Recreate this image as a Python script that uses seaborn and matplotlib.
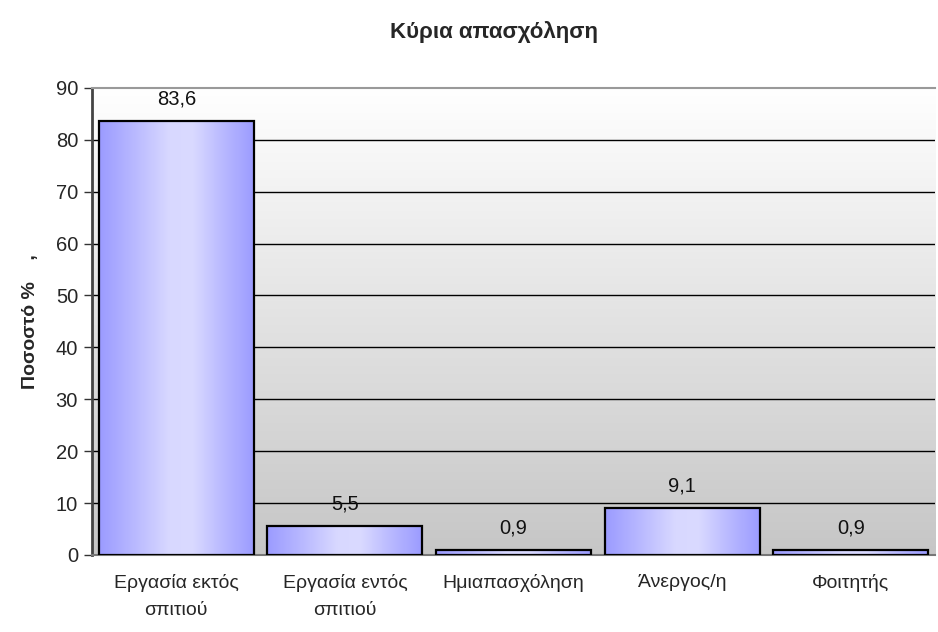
import numpy as np
import pandas as pd
import matplotlib
matplotlib.use("Agg")
import matplotlib.pyplot as plt
import seaborn as sns
from matplotlib.colors import LinearSegmentedColormap

categories = ["Εργασία εκτός\nσπιτιού", "Εργασία εντός\nσπιτιού", "Ημιαπασχόληση", "Άνεργος/η", "Φοιτητής"]
values = [83.6, 5.5, 0.9, 9.1, 0.9]
value_labels = ["83,6", "5,5", "0,9", "9,1", "0,9"]
yticks = [0, 10, 20, 30, 40, 50, 60, 70, 80, 90]

sns.set_theme(style="white")
plt.rcParams['font.family'] = ['Liberation Sans', 'DejaVu Sans']

fig = plt.figure(figsize=(9.38, 6.32), dpi=100)
ax = fig.add_axes([0.098, 0.122, 0.899, 0.739])

df = pd.DataFrame({"cat": categories, "val": values})
sns.barplot(data=df, x="cat", y="val", ax=ax, color="#a0a0ff", width=0.92,
            edgecolor="black", linewidth=1.6, zorder=3)

ax.set_ylim(0, 90)
ax.set_xlim(-0.5, len(categories) - 0.5)

# background gradient
bg = np.linspace(0, 1, 256).reshape(-1, 1)
bg_cmap = LinearSegmentedColormap.from_list("bg", ["#c6c6c6", "#ffffff"])
ax.imshow(bg, cmap=bg_cmap, aspect="auto", extent=[-0.5, len(categories) - 0.5, 0, 90],
          origin="lower", zorder=0)

# bar gradients
grad_cmap = LinearSegmentedColormap.from_list(
    "bar", [(0.0, "#9b9bff"), (0.22, "#b8b8ff"), (0.45, "#d8d8ff"), (0.6, "#dadaff"),
            (0.8, "#b8b8ff"), (1.0, "#9b9bff")])
g = np.linspace(0, 1, 256).reshape(1, -1)
for p in list(ax.patches):
    x0, y0 = p.get_x(), p.get_y()
    w, h = p.get_width(), p.get_height()
    im = ax.imshow(g, cmap=grad_cmap, aspect="auto", extent=[x0, x0 + w, y0, y0 + h],
                   zorder=3.5)
    im.set_clip_path(p)
    p.set_facecolor("none")
    p.set_zorder(4)

ax.set_xlim(-0.5, len(categories) - 0.5)
ax.set_ylim(0, 90)

# value labels
for i, (v, lab) in enumerate(zip(values, value_labels)):
    ax.annotate(lab, (i, v), xytext=(0, 9), textcoords="offset points",
                ha="center", va="bottom", fontsize=14.5, color="#111111", zorder=5)

# gridlines
for t in yticks[1:-1]:
    ax.axhline(t, color="black", linewidth=1.0, zorder=1)

ax.set_yticks(yticks)
ax.set_yticklabels([str(t) for t in yticks], fontsize=14.5)
ax.set_xticks(range(len(categories)))
ax.set_xticklabels(categories, fontsize=14, linespacing=1.75)
ax.set_xticks(np.arange(-0.5, len(categories) + 0.5, 1), minor=True)
ax.tick_params(axis="x", which="major", length=0, pad=14)
ax.tick_params(axis="x", which="minor", length=5, width=1, color="#555555", direction="out")
ax.tick_params(axis="y", which="major", length=6, width=1, color="#333333", direction="out", left=True, pad=4)

ax.spines["left"].set_color("#444444")
ax.spines["left"].set_linewidth(2)
ax.spines["bottom"].set_color("#777777")
ax.spines["bottom"].set_linewidth(1.5)
ax.spines["top"].set_color("#999999")
ax.spines["top"].set_linewidth(1.5)
ax.spines["right"].set_visible(False)

ax.set_xlabel("")
ax.set_ylabel("Ποσοστό %    ,", fontsize=14, fontweight="bold", labelpad=12)
fig.text(0.527, 0.95, "Κύρια απασχόληση", fontsize=16, fontweight="bold",
         ha="center", va="center")

fig.savefig("out.png", dpi=100)
